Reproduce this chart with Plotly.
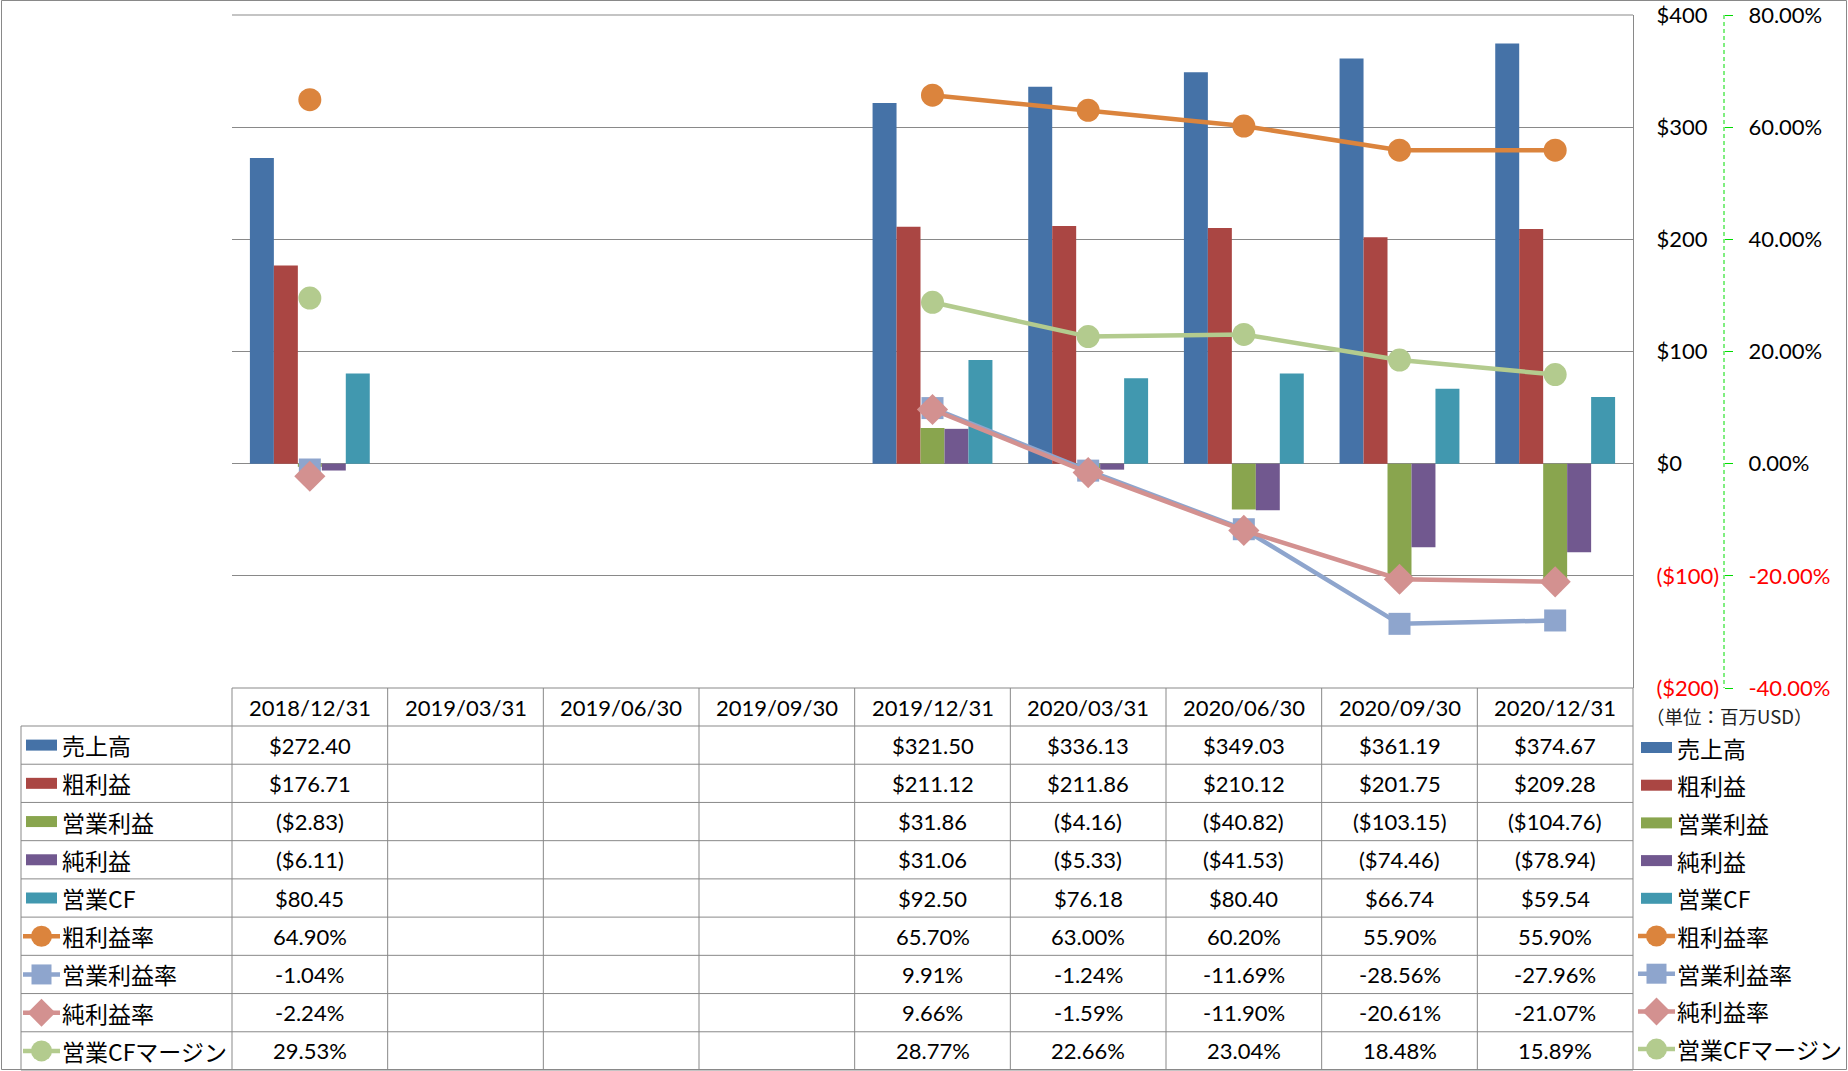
import plotly.graph_objects as go

# ---------------- data ----------------
dates = ["2018/12/31", "2019/03/31", "2019/06/30", "2019/09/30", "2019/12/31",
         "2020/03/31", "2020/06/30", "2020/09/30", "2020/12/31"]

sales = [272.40, None, None, None, 321.50, 336.13, 349.03, 361.19, 374.67]
gross_profit = [176.71, None, None, None, 211.12, 211.86, 210.12, 201.75, 209.28]
op_income = [-2.83, None, None, None, 31.86, -4.16, -40.82, -103.15, -104.76]
net_income = [-6.11, None, None, None, 31.06, -5.33, -41.53, -74.46, -78.94]
op_cf = [80.45, None, None, None, 92.50, 76.18, 80.40, 66.74, 59.54]

gross_margin = [64.90, None, None, None, 65.70, 63.00, 60.20, 55.90, 55.90]
op_margin = [-1.04, None, None, None, 9.91, -1.24, -11.69, -28.56, -27.96]
net_margin = [-2.24, None, None, None, 9.66, -1.59, -11.90, -20.61, -21.07]
cf_margin = [29.53, None, None, None, 28.77, 22.66, 23.04, 18.48, 15.89]

bar_names = ["売上高", "粗利益", "営業利益", "純利益", "営業CF"]
line_names = ["粗利益率", "営業利益率", "純利益率", "営業CFマージン"]

usd_ticks = [-200, -100, 0, 100, 200, 300, 400]
usd_ticktext = ["($200)", "($100)", "$0", "$100", "$200", "$300", "$400"]
pct_ticks = [-0.4, -0.2, 0.0, 0.2, 0.4, 0.6, 0.8]
pct_ticktext = ["-40.00%", "-20.00%", "0.00%", "20.00%", "40.00%", "60.00%", "80.00%"]
unit_note = "（単位：百万USD）"

# ---------------- styles ----------------
bar_colors = ["#4572A7", "#AA4643", "#89A54E", "#71588F", "#4198AF"]
line_colors = ["#DB843D", "#8EA5CD", "#D39190", "#B3CB8E"]
line_symbols = ["circle", "square", "diamond", "circle"]
line_sizes = [23, 22, 24, 23]
GRID = "#898989"
FONT = "Lato, 'Noto Sans CJK JP', sans-serif"
JFONT = "'Noto Sans CJK JP', Lato, sans-serif"
FS = 22

W, H = 1848, 1071
PL, PR, PT, PB = 232, 1633, 15, 688   # plot area in pixels
COLW = (PR - PL) / len(dates)
ROW0, ROW_END = 726, 1070
ROWH = (ROW_END - ROW0) / 9


def px(x):
    return x / W


def py(y):
    return 1 - y / H


def red(s):
    return f'<span style="color:#FF0000">{s}</span>'


def fmt_usd(v):
    if v is None:
        return ""
    return f"${v:,.2f}" if v >= 0 else f"(${-v:,.2f})"


def fmt_pct(v):
    if v is None:
        return ""
    return f"{v:.2f}%"


fig = go.Figure()

bar_series = [sales, gross_profit, op_income, net_income, op_cf]
for name, vals, col in zip(bar_names, bar_series, bar_colors):
    fig.add_trace(go.Bar(x=dates, y=vals, name=name, marker=dict(color=col, line=dict(width=0)),
                         showlegend=False, yaxis="y"))

line_series = [gross_margin, op_margin, net_margin, cf_margin]
for name, vals, col, sym, sz in zip(line_names, line_series, line_colors, line_symbols, line_sizes):
    fig.add_trace(go.Scatter(x=dates, y=[None if v is None else v / 100 for v in vals], name=name,
                             mode="lines+markers", yaxis="y2", showlegend=False,
                             line=dict(color=col, width=4.5),
                             marker=dict(symbol=sym, size=sz, color=col, line=dict(width=0))))

shapes = []
annotations = []

# outer chart border
shapes.append(dict(type="rect", xref="paper", yref="paper", x0=px(1.5), x1=px(1846.5),
                   y0=py(0.5), y1=py(1069.5), line=dict(color=GRID, width=1)))

# top gridline of plot area ($400)
shapes.append(dict(type="line", xref="paper", yref="paper", x0=px(PL), x1=px(PR),
                   y0=py(PT), y1=py(PT), line=dict(color=GRID, width=1), layer="below"))

# secondary axis dashed line
shapes.append(dict(type="line", xref="paper", yref="paper", x0=px(1724), x1=px(1724),
                   y0=py(PT), y1=py(PB), line=dict(color="#00DD00", width=1, dash="4px,3px")))

# table lines
for k in range(len(dates) + 1):
    x = PL + COLW * k
    shapes.append(dict(type="line", xref="paper", yref="paper", x0=px(x), x1=px(x),
                       y0=py(PB), y1=py(ROW_END), line=dict(color=GRID, width=1)))
shapes.append(dict(type="line", xref="paper", yref="paper", x0=px(21), x1=px(21),
                   y0=py(ROW0), y1=py(ROW_END), line=dict(color=GRID, width=1)))
shapes.append(dict(type="line", xref="paper", yref="paper", x0=px(PL), x1=px(PR),
                   y0=py(PB), y1=py(PB), line=dict(color=GRID, width=1)))
for j in range(10):
    y = ROW0 + ROWH * j
    shapes.append(dict(type="line", xref="paper", yref="paper", x0=px(21), x1=px(PR),
                       y0=py(y), y1=py(y), line=dict(color=GRID, width=1)))

# header row
for i, d in enumerate(dates):
    annotations.append(dict(text=d, xref="paper", yref="paper", x=px(PL + COLW * (i + 0.5)),
                            y=py((PB + ROW0) / 2), xanchor="center", yanchor="middle",
                            showarrow=False, font=dict(family=FONT, size=FS, color="black")))

row_texts = [[fmt_usd(v) for v in s] for s in bar_series] + [[fmt_pct(v) for v in s] for s in line_series]
for r, texts in enumerate(row_texts):
    cy = ROW0 + ROWH * (r + 0.5)
    for i, t in enumerate(texts):
        if t:
            annotations.append(dict(text=t, xref="paper", yref="paper", x=px(PL + COLW * (i + 0.5)),
                                    y=py(cy), xanchor="center", yanchor="middle", showarrow=False,
                                    font=dict(family=FONT, size=FS, color="black")))


def legend_key(idx, left, cy, text_x):
    if idx < 5:
        shapes.append(dict(type="rect", xref="paper", yref="paper", x0=px(left), x1=px(left + 31),
                           y0=py(cy - 5.5), y1=py(cy + 5.5), fillcolor=bar_colors[idx],
                           line=dict(width=0)))
        name = bar_names[idx]
    else:
        li = idx - 5
        col = line_colors[li]
        shapes.append(dict(type="line", xref="paper", yref="paper", x0=px(left - 3), x1=px(left + 34),
                           y0=py(cy), y1=py(cy), line=dict(color=col, width=4.5)))
        cx = left + 15.5
        sym = line_symbols[li]
        if sym == "circle":
            r = 10.5
            shapes.append(dict(type="circle", xref="paper", yref="paper", x0=px(cx - r), x1=px(cx + r),
                               y0=py(cy - r), y1=py(cy + r), fillcolor=col, line=dict(width=0)))
        elif sym == "square":
            r = 10
            shapes.append(dict(type="rect", xref="paper", yref="paper", x0=px(cx - r), x1=px(cx + r),
                               y0=py(cy - r), y1=py(cy + r), fillcolor=col, line=dict(width=0)))
        else:
            r = 14
            path = (f"M {px(cx - r)},{py(cy)} L {px(cx)},{py(cy - r)} L {px(cx + r)},{py(cy)} "
                    f"L {px(cx)},{py(cy + r)} Z")
            shapes.append(dict(type="path", xref="paper", yref="paper", path=path,
                               fillcolor=col, line=dict(width=0)))
        name = line_names[li]
    annotations.append(dict(text=name, xref="paper", yref="paper", x=px(text_x), y=py(cy),
                            xanchor="left", yanchor="middle", showarrow=False,
                            font=dict(family=JFONT, size=23, color="black")))


for idx in range(9):
    legend_key(idx, 26, ROW0 + ROWH * (idx + 0.5), 60)
    legend_key(idx, 1641, 747.5 + 37.7 * idx, 1675)

annotations.append(dict(text=unit_note, xref="paper", yref="paper", x=px(1644), y=py(716),
                        xanchor="left", yanchor="middle", showarrow=False,
                        font=dict(family=JFONT, size=18.5, color="#222222")))

fig.update_layout(
    width=W, height=H, autosize=False,
    margin=dict(l=0, r=0, t=0, b=0, pad=0, autoexpand=False),
    paper_bgcolor="white", plot_bgcolor="white",
    barmode="group", bargap=0.23, bargroupgap=0,
    font=dict(family=FONT, size=FS, color="black"),
    showlegend=False,
    xaxis=dict(domain=[px(PL), px(PR)], type="category", range=[-0.5, 8.5],
               showticklabels=False, showgrid=False, showline=False, ticks="", zeroline=False,
               automargin=False, fixedrange=True),
    yaxis=dict(domain=[py(PB), py(PT)], range=[-200, 400], side="right", anchor="x",
               tickvals=usd_ticks,
               ticktext=[red(t) if v < 0 else t for v, t in zip(usd_ticks, usd_ticktext)],
               showgrid=True, gridcolor=GRID, gridwidth=1, showline=True, linecolor=GRID,
               linewidth=1, zeroline=False, ticks="", ticklabelstandoff=18, automargin=False,
               tickfont=dict(family=FONT, size=FS, color="black")),
    yaxis2=dict(overlaying="y", side="right", anchor="free", position=px(1724),
                range=[-0.4, 0.8], tickvals=pct_ticks,
                ticktext=[red(t) if v < 0 else t for v, t in zip(pct_ticks, pct_ticktext)],
                showgrid=False, showline=False, zeroline=False, automargin=False,
                ticks="outside", ticklen=8, tickcolor="#00DD00", tickwidth=1,
                ticklabelstandoff=11, tickfont=dict(family=FONT, size=FS, color="black")),
    shapes=shapes,
    annotations=annotations,
)

fig.write_html("out.html", config={"displayModeBar": False},
               post_script="document.body.style.margin='0';document.body.style.overflow='hidden';")
